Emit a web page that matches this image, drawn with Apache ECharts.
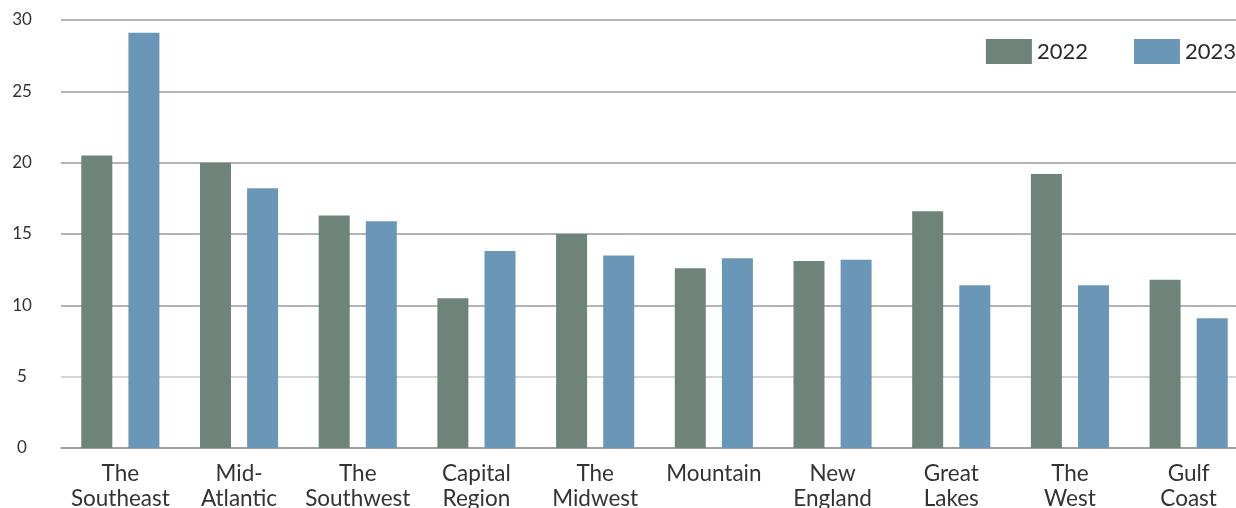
<!DOCTYPE html>
<html>
<head>
<meta charset="utf-8">
<script src="https://cdn.jsdelivr.net/npm/echarts@6/dist/echarts.min.js"></script>
<style>
  html, body { margin: 0; padding: 0; background: #fff; }
  #chart { width: 1236px; height: 508px; }
</style>
</head>
<body>
<div id="chart"></div>
<script>
  // data
  const regions = ['The\nSoutheast', 'Mid-\nAtlantic', 'The\nSouthwest', 'Capital\nRegion', 'The\nMidwest',
    'Mountain', 'New\nEngland', 'Great\nLakes', 'The\nWest', 'Gulf\nCoast']
  const years = ['2022', '2023']
  const values2022 = [20.5, 20.0, 16.3, 10.5, 15.0, 12.6, 13.1, 16.6, 19.2, 11.8]
  const values2023 = [29.1, 18.2, 15.9, 13.8, 13.5, 13.3, 13.2, 11.4, 11.4, 9.1]

  const myChart = echarts.init(document.getElementById('chart'))
  const font = 'Lato, "Noto Sans", sans-serif'

  let option = {
    animation: false,
    backgroundColor: '#ffffff',
    textStyle: { fontFamily: font },
    // plot runs past the right edge like the original, labels may spill below
    grid: { left: 61, top: 20, right: -12, bottom: 60, containLabel: false, outerBoundsMode: 'none' },
    legend: {
      data: years,
      right: 0,
      top: 39,
      padding: 0,
      itemWidth: 46,
      itemHeight: 25,
      itemGap: 46,
      icon: 'rect',
      textStyle: { fontSize: 22, color: '#2b2b2b', fontFamily: font }
    },
    xAxis: {
      type: 'category',
      data: regions,
      axisLine: { show: true, lineStyle: { color: '#9a9a9a', width: 1.5 } },
      axisTick: { show: false },
      axisLabel: {
        margin: 13,
        fontSize: 22.5,
        lineHeight: 25,
        color: '#333',
        interval: 0
      }
    },
    yAxis: {
      type: 'value',
      min: 0,
      max: 30,
      interval: 5,
      axisLine: { show: false },
      axisTick: { show: false },
      axisLabel: { margin: 39, align: 'center', fontSize: 17, color: '#333' },
      splitLine: {
        show: true,
        lineStyle: {
          color: ['#9a9a9a', '#c6c6c6', '#9a9a9a', '#9a9a9a', '#9a9a9a', '#9a9a9a', '#9a9a9a'],
          width: 1.5
        }
      }
    },
    series: [
      {
        name: '2022',
        type: 'bar',
        barWidth: 31,
        barGap: '52%',
        itemStyle: { color: '#6e847a' },
        data: values2022
      },
      {
        name: '2023',
        type: 'bar',
        barWidth: 31,
        barGap: '52%',
        itemStyle: { color: '#6a97b7' },
        data: values2023
      }
    ]
  }

  option && myChart.setOption(option)
</script>
</body>
</html>
